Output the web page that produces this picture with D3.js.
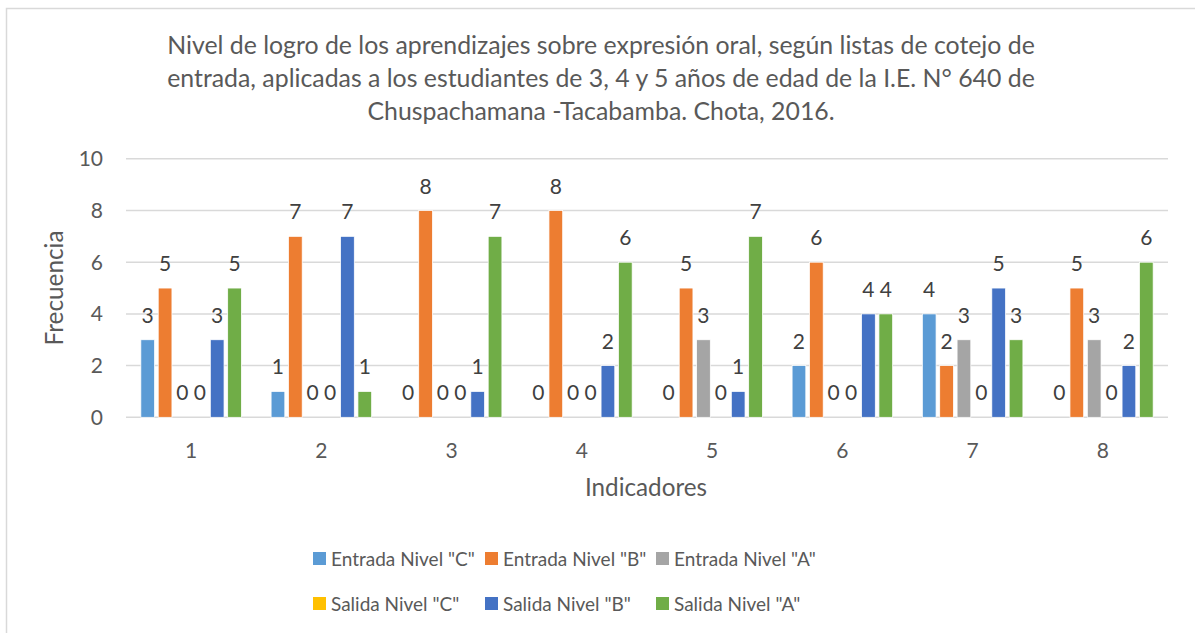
<!DOCTYPE html>
<html>
<head>
<meta charset="utf-8">
<script src="https://cdn.jsdelivr.net/npm/d3@7"></script>
<style>
  body { margin: 0; background: #fff; }
  svg { display: block; font-family: Lato, "Open Sans", sans-serif; }
</style>
</head>
<body>
<div id="chart"></div>
<script>
var categories = ["1", "2", "3", "4", "5", "6", "7", "8"];
var seriesNames = ['Entrada Nivel "C"', 'Entrada Nivel "B"', 'Entrada Nivel "A"',
                   'Salida Nivel "C"', 'Salida Nivel "B"', 'Salida Nivel "A"'];
var entradaC = [3, 1, 0, 0, 0, 2, 4, 0];
var entradaB = [5, 7, 8, 8, 5, 6, 2, 5];
var entradaA = [0, 0, 0, 0, 3, 0, 3, 3];
var salidaC  = [0, 0, 0, 0, 0, 0, 0, 0];
var salidaB  = [3, 7, 1, 2, 1, 4, 5, 2];
var salidaA  = [5, 1, 7, 6, 7, 4, 3, 6];
var yTicks = [0, 2, 4, 6, 8, 10];
var titleLines = [
  "Nivel de logro de los aprendizajes sobre expresión oral, según listas de cotejo de",
  "entrada, aplicadas a los estudiantes de 3, 4 y 5 años de edad de la I.E. N° 640 de",
  "Chuspachamana -Tacabamba. Chota, 2016."
];
var colors = ["#5B9BD5", "#ED7D31", "#A5A5A5", "#FFC000", "#4472C4", "#70AD47"];

var allSeries = [entradaC, entradaB, entradaA, salidaC, salidaB, salidaA];
var W = 1195, H = 633;
var textColor = "#595959";

var svg = d3.select("#chart").append("svg")
    .attr("width", W)
    .attr("height", H);

// scale a text's font so it spans the given width
function fitWidth(sel, target) {
  var fs = +sel.attr("font-size");
  var len = sel.node().getComputedTextLength();
  if (len > 0) sel.attr("font-size", fs * target / len);
}

// chart border
svg.append("rect")
    .attr("x", 6.5).attr("y", 8.5)
    .attr("width", W + 20).attr("height", H + 20)
    .attr("fill", "#fff")
    .attr("stroke", "#D9D9D9")
    .attr("stroke-width", 1.5);

var plot = { left: 126, right: 1168, top: 158.8, bottom: 417.3 };

var x0 = d3.scaleBand()
    .domain(categories)
    .range([plot.left, plot.right]);

var x1 = d3.scaleBand()
    .domain(d3.range(seriesNames.length))
    .range([x0.bandwidth() * 0.114, x0.bandwidth() * 0.886])
    .paddingInner(0.21);

var y = d3.scaleLinear()
    .domain([0, 10])
    .range([plot.bottom, plot.top]);

// gridlines
svg.append("g")
  .selectAll("line")
  .data(yTicks)
  .join("line")
    .attr("x1", plot.left).attr("x2", plot.right)
    .attr("y1", function (d) { return y(d); })
    .attr("y2", function (d) { return y(d); })
    .attr("stroke", "#D9D9D9")
    .attr("stroke-width", 1.5);

// y tick labels
svg.append("g")
  .selectAll("text")
  .data(yTicks)
  .join("text")
    .attr("x", 103)
    .attr("y", function (d) { return y(d) + 7.5; })
    .attr("text-anchor", "end")
    .attr("fill", textColor)
    .attr("font-size", 21)
    .text(function (d) { return d; });

// x category labels
svg.append("g")
  .selectAll("text")
  .data(categories)
  .join("text")
    .attr("x", function (d) { return x0(d) + x0.bandwidth() / 2; })
    .attr("y", 458)
    .attr("text-anchor", "middle")
    .attr("fill", textColor)
    .attr("font-size", 21)
    .text(function (d) { return d; });

// bars
var rows = [];
categories.forEach(function (c, ci) {
  allSeries.forEach(function (s, si) {
    rows.push({ cat: c, si: si, value: s[ci] });
  });
});

svg.append("g")
  .selectAll("rect")
  .data(rows.filter(function (d) { return d.value > 0; }))
  .join("rect")
    .attr("x", function (d) { return x0(d.cat) + x1(d.si); })
    .attr("y", function (d) { return y(d.value); })
    .attr("width", x1.bandwidth())
    .attr("height", function (d) { return y(0) - y(d.value); })
    .attr("fill", function (d) { return colors[d.si]; })
    .attr("stroke", "#fff")
    .attr("stroke-width", 0.75);

// value labels
svg.append("g")
  .selectAll("text")
  .data(rows)
  .join("text")
    .attr("x", function (d) { return x0(d.cat) + x1(d.si) + x1.bandwidth() / 2; })
    .attr("y", function (d) { return y(d.value) - 17; })
    .attr("text-anchor", "middle")
    .attr("fill", "#404040")
    .attr("font-size", 21)
    .text(function (d) { return d.value; });

// title
var title = svg.append("g")
  .selectAll("text")
  .data(titleLines)
  .join("text")
    .attr("x", 601)
    .attr("y", function (d, i) { return 54 + i * 33; })
    .attr("text-anchor", "middle")
    .attr("fill", textColor)
    .attr("font-size", 22)
    .text(function (d) { return d; });
fitWidth(d3.select(title.nodes()[0]), 868);
title.attr("font-size", d3.select(title.nodes()[0]).attr("font-size"));

// axis titles
var yTitle = svg.append("text")
    .attr("transform", "translate(63,288) rotate(-90)")
    .attr("text-anchor", "middle")
    .attr("fill", textColor)
    .attr("font-size", 22)
    .text("Frecuencia");
fitWidth(yTitle, 115);

var xTitle = svg.append("text")
    .attr("x", 646)
    .attr("y", 496)
    .attr("text-anchor", "middle")
    .attr("fill", textColor)
    .attr("font-size", 22)
    .text("Indicadores");
fitWidth(xTitle, 122);

// legend
var legendX = [313, 485, 656];
var legendY = [559, 604];
var legend = svg.append("g")
  .selectAll("g")
  .data(seriesNames)
  .join("g")
    .attr("transform", function (d, i) {
      return "translate(" + legendX[i % 3] + "," + legendY[Math.floor(i / 3)] + ")";
    });

legend.append("rect")
    .attr("x", 0).attr("y", -7)
    .attr("width", 13).attr("height", 13)
    .attr("fill", function (d, i) { return colors[i]; });

legend.append("text")
    .attr("x", 18)
    .attr("y", 6.5)
    .attr("fill", textColor)
    .attr("font-size", 19)
    .text(function (d) { return d; });
</script>
</body>
</html>
